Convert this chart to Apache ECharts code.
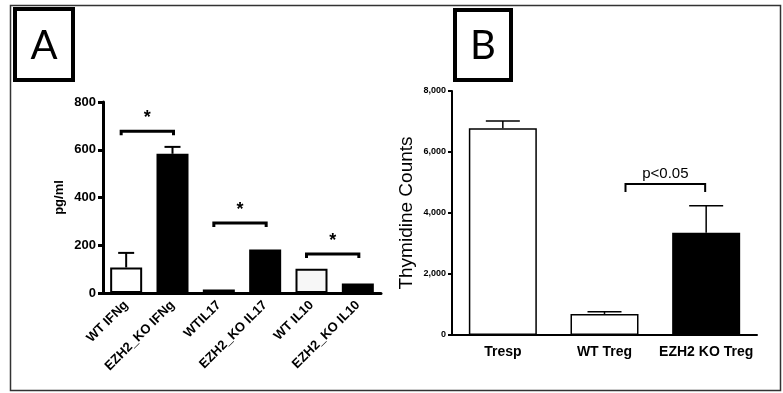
<!DOCTYPE html>
<html>
<head>
<meta charset="utf-8">
<script src="https://cdn.jsdelivr.net/npm/echarts@6/dist/echarts.min.js"></script>
<style>
    html, body {margin: 0; padding: 0; background: #fff;}
    #main {width: 783px; height: 393px;}
</style>
</head>
<body>
<div id="main"></div>
<script>
// panel A - cytokines
var catsA = ['WT IFNg', 'EZH2_KO IFNg', 'WTIL17', 'EZH2_KO IL17', 'WT IL10', 'EZH2_KO IL10'];
var valsA = [107, 583, 15, 182, 102, 40];
var errA = [168, 612, 19, 182, 102, 40];
var fillA = ['#ffffff', '#000000', '#ffffff', '#000000', '#f7f7f7', '#000000'];
var ticksA = [0, 200, 400, 600, 800];
// brackets: [left cat, right cat, level]
var bracketsA = [[0, 1, 678], [2, 3, 293], [4, 5, 163]];
var starA = ['*', '*', '*'];

// panel B - proliferation
var catsB = ['Tresp', 'WT Treg', 'EZH2 KO Treg'];
var valsB = [6780, 690, 3350];
var errB = [7020, 760, 4240];
var fillB = ['#ffffff', '#ffffff', '#000000'];
var ticksB = [0, 2000, 4000, 6000, 8000];
var bracketsB = [[1, 2, 4950]];
var pLabelB = ['p<0.05'];

var chart = echarts.init(document.getElementById('main'), null, {renderer: 'canvas'});

function barData(vals, fills, bw) {
    return vals.map(function (v, i) {
        return {value: v, itemStyle: {color: fills[i], borderColor: '#000', borderWidth: bw}};
    });
}

function errSeries(idx, vals, errs, capHalf, lw) {
    return {
        type: 'custom',
        xAxisIndex: idx,
        yAxisIndex: idx,
        silent: true,
        z: 1,
        data: vals.map(function (v, i) { return [i, v, errs[i]]; }),
        renderItem: function (params, api) {
            var lo = api.coord([api.value(0), api.value(1)]);
            var hi = api.coord([api.value(0), api.value(2)]);
            if (hi[1] >= lo[1] - 1) return null;
            var st = {stroke: '#000', lineWidth: lw};
            return {
                type: 'group',
                children: [
                    {type: 'line', shape: {x1: lo[0], y1: lo[1], x2: hi[0], y2: hi[1]}, style: st},
                    {type: 'line', shape: {x1: hi[0] - capHalf, y1: hi[1], x2: hi[0] + capHalf, y2: hi[1]}, style: st}
                ]
            };
        }
    };
}

function bracketSeries(idx, brackets, labels, opt) {
    return {
        type: 'custom',
        xAxisIndex: idx,
        yAxisIndex: idx,
        silent: true,
        data: brackets,
        renderItem: function (params, api) {
            var a = api.coord([api.value(0), api.value(2)]);
            var b = api.coord([api.value(1), api.value(2)]);
            var x1 = a[0] + opt.left, x2 = b[0] + opt.right, y = a[1];
            return {
                type: 'group',
                children: [
                    {
                        type: 'polyline',
                        shape: {points: [[x1, y + opt.drop], [x1, y], [x2, y], [x2, y + opt.drop]]},
                        style: {stroke: '#000', lineWidth: opt.lw, fill: null}
                    },
                    {
                        type: 'text',
                        x: (x1 + x2) / 2,
                        y: y - opt.textGap,
                        style: {
                            text: labels[params.dataIndex],
                            font: opt.font,
                            fill: '#000',
                            align: 'center',
                            verticalAlign: 'bottom'
                        }
                    }
                ]
            };
        }
    };
}

var option = {
    animation: false,
    backgroundColor: '#fff',
    graphic: [
        {type: 'rect', shape: {x: 10.5, y: 5.5, width: 770, height: 385},
            style: {fill: null, stroke: '#333', lineWidth: 1.5}},
        {type: 'rect', shape: {x: 15, y: 9, width: 58, height: 71},
            style: {fill: '#fff', stroke: '#000', lineWidth: 4}},
        {type: 'text', x: 44, y: 46, style: {text: 'A', font: '40px Lato', fill: '#000', align: 'center', verticalAlign: 'middle'}},
        {type: 'rect', shape: {x: 455, y: 10, width: 56, height: 70},
            style: {fill: '#fff', stroke: '#000', lineWidth: 4}},
        {type: 'text', x: 483, y: 46, style: {text: 'B', font: '40px Lato', fill: '#000', align: 'center', verticalAlign: 'middle'}}
    ],
    grid: [
        {left: 103, right: 402, top: 102, bottom: 100},
        {left: 452, right: 26, top: 91, bottom: 58}
    ],
    xAxis: [
        {
            type: 'category',
            gridIndex: 0,
            data: catsA,
            axisLine: {lineStyle: {color: '#000', width: 3}},
            axisTick: {alignWithLabel: true, length: 6, lineStyle: {color: '#000', width: 3}},
            axisLabel: {rotate: 45, interval: 0, color: '#000', fontFamily: 'Liberation Sans', fontWeight: 'bold', fontSize: 13, margin: 10}
        },
        {
            type: 'category',
            gridIndex: 1,
            data: catsB,
            axisLine: {lineStyle: {color: '#000', width: 2}},
            axisTick: {alignWithLabel: true, length: 5, lineStyle: {color: '#000', width: 2}},
            axisLabel: {interval: 0, color: '#000', fontFamily: 'Liberation Sans', fontWeight: 'bold', fontSize: 14, margin: 10}
        }
    ],
    yAxis: [
        {
            type: 'value',
            gridIndex: 0,
            min: ticksA[0],
            max: ticksA[ticksA.length - 1],
            interval: ticksA[1] - ticksA[0],
            name: 'pg/ml',
            nameLocation: 'middle',
            nameGap: 37,
            nameTextStyle: {color: '#000', fontFamily: 'Liberation Sans', fontWeight: 'bold', fontSize: 13},
            splitLine: {show: false},
            axisLine: {show: true, lineStyle: {color: '#000', width: 3}},
            axisTick: {show: true, length: 5, lineStyle: {color: '#000', width: 3}},
            axisLabel: {color: '#000', fontFamily: 'Liberation Sans', fontWeight: 'bold', fontSize: 13, margin: 7}
        },
        {
            type: 'value',
            gridIndex: 1,
            min: ticksB[0],
            max: ticksB[ticksB.length - 1],
            interval: ticksB[1] - ticksB[0],
            name: 'Thymidine Counts',
            nameLocation: 'middle',
            nameGap: 36,
            nameTextStyle: {color: '#000', fontFamily: 'Liberation Sans', fontSize: 19},
            splitLine: {show: false},
            axisLine: {show: true, lineStyle: {color: '#000', width: 2}},
            axisTick: {show: true, length: 4, lineStyle: {color: '#000', width: 2}},
            axisLabel: {
                color: '#000', fontFamily: 'Liberation Sans', fontWeight: 'bold', fontSize: 9, margin: 6,
                formatter: function (v) { return v.toLocaleString('en-US'); }
            }
        }
    ],
    series: [
        errSeries(0, valsA, errA, 8, 2),
        {
            type: 'bar',
            xAxisIndex: 0,
            yAxisIndex: 0,
            barWidth: 32,
            z: 2,
            data: barData(valsA, fillA, 2)
        },
        bracketSeries(0, bracketsA, starA, {left: -5, right: 1, drop: 4, lw: 3, textGap: 4, font: 'bold 18px Liberation Sans'}),
        errSeries(1, valsB, errB, 17, 1.5),
        {
            type: 'bar',
            xAxisIndex: 1,
            yAxisIndex: 1,
            barWidth: 68,
            z: 2,
            data: barData(valsB, fillB, 1.5)
        },
        bracketSeries(1, bracketsB, pLabelB, {left: 21, right: -1, drop: 8, lw: 2, textGap: 3, font: '15px Liberation Sans'})
    ]
};
chart.setOption(option);
</script>
</body>
</html>
